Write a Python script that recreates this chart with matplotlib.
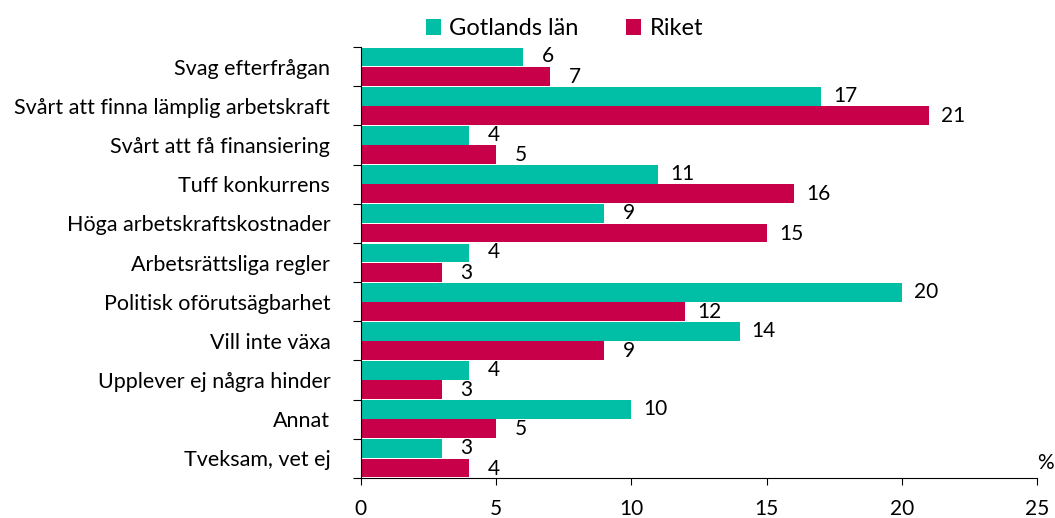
import numpy as np
import matplotlib.pyplot as plt

plt.rcParams['font.family'] = ['Lato', 'DejaVu Sans']

categories = ["Svag efterfrågan", "Svårt att finna lämplig arbetskraft",
              "Svårt att få finansiering", "Tuff konkurrens",
              "Höga arbetskraftskostnader", "Arbetsrättsliga regler",
              "Politisk oförutsägbarhet", "Vill inte växa",
              "Upplever ej några hinder", "Annat", "Tveksam, vet ej"]
gotland = [6, 17, 4, 11, 9, 4, 20, 14, 4, 10, 3]
riket = [7, 21, 5, 16, 15, 3, 12, 9, 3, 5, 4]

c_got = '#00BFA6'
c_rik = '#C8004A'

fig = plt.figure(figsize=(10.55, 5.18), dpi=100)
ax = fig.add_axes([0.342, 0.0772, 0.641, 0.832])

y = np.arange(len(categories))
h = 0.48
ax.barh(y - 0.245, gotland, height=h, color=c_got, label='Gotlands län')
ax.barh(y + 0.245, riket, height=h, color=c_rik, label='Riket')

for yi, v in zip(y, gotland):
    ax.text(v + 0.9, yi - 0.26, str(v), va='center', ha='center', fontsize=15)
for yi, v in zip(y, riket):
    ax.text(v + 0.9, yi + 0.26, str(v), va='center', ha='center', fontsize=15)

ax.set_xlim(0, 25)
ax.set_ylim(len(categories) - 0.5, -0.5)
ax.set_xticks([0, 5, 10, 15, 20, 25])
ax.tick_params(axis='x', labelsize=15, length=5, pad=10)

# ticks between categories, labels in the middle
ax.set_yticks(np.arange(-0.5, len(categories), 1))
ax.set_yticklabels([])
ax.set_yticks(y, minor=True)
ax.set_yticklabels(categories, minor=True, fontsize=15.5)
ax.tick_params(axis='y', which='major', length=6)
ax.tick_params(axis='y', which='minor', length=0, pad=22)

ax.spines['top'].set_visible(False)
ax.spines['right'].set_visible(False)

ax.text(1.012, 0.02, '%', transform=ax.transAxes, fontsize=15, ha='center')

fig.legend(loc='center', bbox_to_anchor=(0.535, 0.945), ncol=2, frameon=False,
           fontsize=17, handlelength=0.65, handleheight=0.65, columnspacing=2.0,
           handletextpad=0.35)

fig.savefig('out.png', dpi=100)
